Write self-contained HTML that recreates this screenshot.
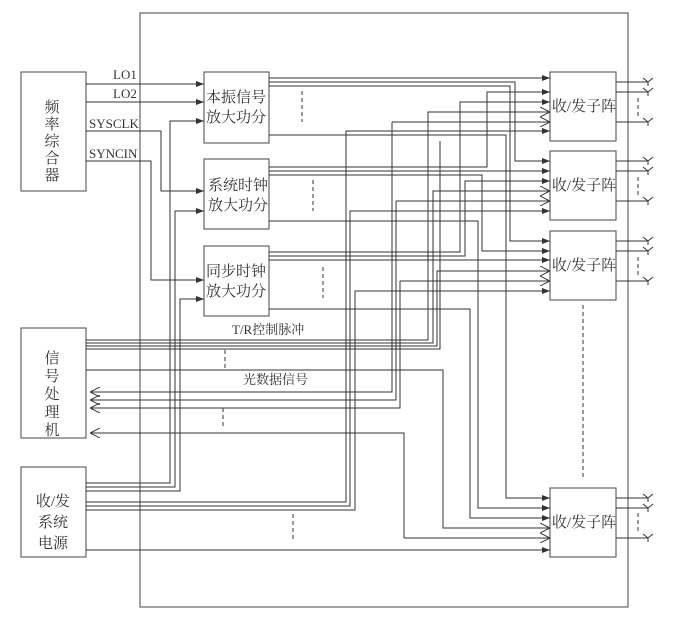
<!DOCTYPE html><html><head><meta charset="utf-8"><style>body{margin:0;background:#fff}svg{display:block}text{font-family:"Liberation Serif","Noto Serif CJK SC",serif;fill:#333}</style></head><body>
<svg width="679" height="617" viewBox="0 0 679 617" xmlns="http://www.w3.org/2000/svg">
<defs>
<marker id="f" markerWidth="8" markerHeight="6" refX="8" refY="3" orient="auto" markerUnits="userSpaceOnUse"><path d="M0,0L8,3L0,6z" fill="#333"/></marker>
<marker id="o" markerWidth="10" markerHeight="10" refX="10" refY="5" orient="auto" markerUnits="userSpaceOnUse"><path d="M0,0L10,5L0,10" fill="none" stroke="#333"/></marker>
</defs>
<g fill="none" stroke="#555" stroke-width="1.1">
<rect x="140" y="13" width="488" height="594"/>
<rect x="21" y="72" width="65" height="119"/>
<rect x="21" y="328" width="65" height="110"/>
<rect x="21" y="467" width="65" height="90"/>
<rect x="204" y="72" width="65" height="71"/>
<rect x="204" y="159" width="65" height="70"/>
<rect x="204" y="246" width="65" height="70"/>
<rect x="550" y="72" width="66" height="69"/>
<rect x="550" y="151" width="66" height="69"/>
<rect x="550" y="231" width="66" height="69"/>
<rect x="550" y="488" width="66" height="69"/>
</g>
<g fill="none" stroke="#333" stroke-width="1" marker-end="url(#f)">
<path d="M86 84H204"/><path d="M86 102H204"/>
<path d="M86 131H161V191H204"/><path d="M86 161H151V280H204"/>
<path d="M86 483H170V121H204"/><path d="M86 487H175V211H204"/><path d="M86 491H180V299H204"/>
<path d="M269 78H550"/><path d="M269 82H515V161H550"/><path d="M269 86H510V241H550"/><path d="M269 135H506V498H550"/>
<path d="M269 167H487V92H550"/><path d="M269 171H550"/><path d="M269 175H482V251H550"/><path d="M269 221H478V508H550"/>
<path d="M269 252H460V102H550"/><path d="M269 256H465V181H550"/><path d="M269 260H550"/><path d="M269 309H470V518H550"/>
<path d="M86 502H346V131H550"/><path d="M86 506H350V211H550"/><path d="M86 510H355V291H550"/>
<path d="M86 550H550"/>
</g>
<g fill="none" stroke="#333" stroke-width="1" marker-end="url(#o)">
<path d="M86 340H428V112H550"/><path d="M86 343H433V191H550"/><path d="M86 346H437V271H550"/>
<path d="M86 370H443V528H550"/><path d="M404 538V433H90"/><path d="M404 538H550"/>
<path d="M392 122H550"/><path d="M396 201H550"/><path d="M400 281H550"/>
<path d="M392 122V392H90"/><path d="M396 201V400H90"/><path d="M400 281V408H90"/>
</g>
<g fill="none" stroke="#333" stroke-width="1">
<path d="M86 349H440V141"/>
<path d="M616 82H648M616 92H648M616 122H648M616 161H648M616 171H648M616 201H648M616 241H648M616 251H648M616 281H648M616 498H648M616 508H648M616 538H648"/>
<path d="M643 78L648 82L653 78M648 82V86M643 88L648 92L653 88M648 92V96M643 118L648 122L653 118M648 122V126M643 157L648 161L653 157M648 161V165M643 167L648 171L653 167M648 171V175M643 197L648 201L653 197M648 201V205M643 237L648 241L653 237M648 241V245M643 247L648 251L653 247M648 251V255M643 277L648 281L653 277M648 281V285M643 494L648 498L653 494M648 498V502M643 504L648 508L653 504M648 508V512M643 534L648 538L653 534M648 538V542"/>
<g stroke-dasharray="4,3"><path d="M302 91V122M313 180V211M323 267V298M638 98V118M638 177V197M638 257V277M638 513V533M583 305V480M225 350V368M223 408V428M293 514V540"/></g>
</g>
<g font-size="13">
<text x="113" y="79">LO1</text><text x="113" y="98">LO2</text>
<text x="89" y="128">SYSCLK</text><text x="89" y="158">SYNCIN</text>
<text x="232" y="334">T/R控制脉冲</text><text x="243" y="384">光数据信号</text>
</g>
<g font-size="15" text-anchor="middle">
<text x="236" y="102">本振信号</text><text x="236" y="122">放大功分</text>
<text x="238" y="190">系统时钟</text><text x="238" y="210">放大功分</text>
<text x="236" y="276">同步时钟</text><text x="236" y="296">放大功分</text>
<text x="584" y="111">收/发子阵</text><text x="584" y="190">收/发子阵</text><text x="584" y="270">收/发子阵</text><text x="584" y="527">收/发子阵</text>
<text x="52" y="112">频</text><text x="52" y="129">率</text><text x="52" y="146">综</text><text x="52" y="163">合</text><text x="52" y="180">器</text>
<text x="52" y="363">信</text><text x="52" y="381">号</text><text x="52" y="399">处</text><text x="52" y="417">理</text><text x="52" y="435">机</text>
<text x="53" y="506">收/发</text><text x="53" y="527">系统</text><text x="53" y="548">电源</text>
</g>
</svg></body></html>
